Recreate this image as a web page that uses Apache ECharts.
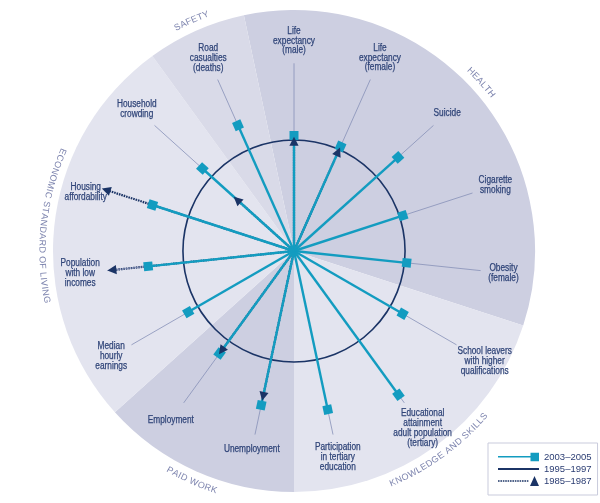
<!DOCTYPE html>
<html lang="en">
<head>
    <meta charset="UTF-8">
    <title>Change in social indicators since 1995–1997</title>
    <script src="https://cdn.jsdelivr.net/npm/echarts@6/dist/echarts.min.js"></script>
    <style>
        html, body { margin: 0; padding: 0; background: #fff; }
        #main { width: 600px; height: 503px; }
    </style>
</head>
<body>
<div id="main"></div>
<script>
    // indicators, clockwise from the top
    var indicators = [
        'Life\nexpectancy\n(male)', 'Life\nexpectancy\n(female)', 'Suicide', 'Cigarette\nsmoking', 'Obesity\n(female)',
        'School leavers\nwith higher\nqualifications', 'Educational\nattainment\nadult population\n(tertiary)',
        'Participation\nin tertiary\neducation', 'Unemployment', 'Employment', 'Median\nhourly\nearnings',
        'Population\nwith low\nincomes', 'Housing\naffordability', 'Household\ncrowding', 'Road\ncasualties\n(deaths)'
    ];
    // position relative to 1995–1997 (= 100)
    var values2005 = [104, 103, 126, 103, 102, 113, 160, 146, 142, 114, 110, 132, 134, 111, 124];
    var values1985 = [98, 97, null, null, null, null, null, null, 133, 110, null, 164, 177, 68, null];
    var baseline1995 = 100;
    // domains in the same clockwise order, with the number of indicators in each
    var domains = ['HEALTH', 'KNOWLEDGE AND SKILLS', 'PAID WORK', 'ECONOMIC STANDARD OF LIVING', 'SAFETY'];
    var domainSizes = [5, 3, 2, 4, 1];

    var domainColors = ['#cdcfe1', '#e3e4ef', '#cdcfe1', '#e3e4ef', '#d9dae8'];
    var CYAN = '#139cc0', NAVY = '#1b3466', LEADER = '#8791b8', LABEL = '#2f4478', DOMAIN = '#7d84ae';
    var FONT = '"Liberation Sans", Arial, sans-serif';

    var N = indicators.length;
    var STEP = 360 / N;
    var R_MAX = 217;        // radius value at the rim
    var LEADER_END = 169;
    var LABEL_R = 176;      // labels sit just outside this ring
    var DOMAIN_R = 227;
    var LABEL_SIZE = 10, LABEL_LH = 9.8, LABEL_SQUEEZE = 0.83;
    // housing label drops below its arrow head
    var labelNudge = { 12: [-3, 8] };

    function angleOf(i) { return i * STEP; }

    var measure = document.createElement('canvas').getContext('2d');

    function labelBox(text) {
        measure.font = LABEL_SIZE + 'px ' + FONT;
        var lines = text.split('\n');
        var w = 0;
        lines.forEach(function (l) { w = Math.max(w, measure.measureText(l).width); });
        return [w * LABEL_SQUEEZE, lines.length * LABEL_LH];
    }

    var domainData = [];
    var start = 0;
    domains.forEach(function (d, i) {
        domainData.push([DOMAIN_R, (start + domainSizes[i] / 2 - 0.5) * STEP]);
        start += domainSizes[i];
    });

    var myChart = echarts.init(document.getElementById('main'));

    function dotsPath() {
        var p = '';
        for (var x = 0; x < 30; x += 2.4) {
            p += 'M' + x + ',4.2H' + (x + 1.6) + 'V5.8H' + x + 'Z';
        }
        return p;
    }

    var option = {
        animation: false,
        polar: { center: [294, 251], radius: 241 },
        angleAxis: { type: 'value', min: 0, max: 360, startAngle: 90, clockwise: true, show: false, splitLine: { show: false } },
        radiusAxis: { type: 'value', min: 0, max: R_MAX, show: false, splitLine: { show: false } },
        legend: {
            orient: 'vertical',
            left: 488,
            top: 443,
            padding: [8, 6, 8, 10],
            itemGap: 0,
            itemWidth: 41,
            itemHeight: 10,
            selectedMode: false,
            borderColor: '#c9cbdc',
            borderWidth: 1,
            backgroundColor: '#fff',
            textStyle: { color: '#2b3d73', fontSize: 9.5, lineHeight: 12, fontFamily: FONT },
            data: [
                { name: '2003–2005', icon: 'path://M0,4.2H33V5.8H0Z M32.5,1H41V9.5H32.5Z', itemStyle: { color: CYAN, borderWidth: 0 } },
                { name: '1995–1997', icon: 'path://M0,0H41V1.8H0Z', itemStyle: { color: NAVY, borderWidth: 0 } },
                { name: '1985–1987', icon: 'path://' + dotsPath() + ' M32,10L36.5,0L41,10Z', itemStyle: { color: NAVY, borderWidth: 0 } }
            ]
        },
        series: [
            {
                type: 'pie',
                z: 1,
                silent: true,
                center: [294, 251],
                radius: 241,
                startAngle: 90 + STEP / 2,
                label: { show: false },
                labelLine: { show: false },
                emphasis: { disabled: true },
                itemStyle: { borderWidth: 0 },
                data: domains.map(function (d, i) {
                    return { name: d, value: domainSizes[i], itemStyle: { color: domainColors[i] } };
                })
            },
            {
                name: '1995–1997',
                type: 'custom',
                coordinateSystem: 'polar',
                silent: true,
                itemStyle: { color: NAVY },
                data: [[baseline1995, 0]],
                renderItem: function (params, api) {
                    var c = api.coord([0, 0]);
                    var p = api.coord([api.value(0), 0]);
                    var r = Math.hypot(p[0] - c[0], p[1] - c[1]);
                    return {
                        type: 'circle', z2: 1,
                        shape: { cx: c[0], cy: c[1], r: r },
                        style: { fill: 'none', stroke: NAVY, lineWidth: 1.6 }
                    };
                }
            },
            {
                name: '1985–1987',
                type: 'custom',
                coordinateSystem: 'polar',
                silent: true,
                itemStyle: { color: NAVY },
                data: values1985.map(function (v, i) { return [v === null ? '-' : v, angleOf(i)]; }),
                renderItem: function (params, api) {
                    var v = api.value(0);
                    if (isNaN(v)) return null;
                    var ang = api.value(1);
                    var c = api.coord([0, ang]);
                    var p = api.coord([v, ang]);
                    var rot = Math.atan2(p[1] - c[1], p[0] - c[0]);
                    return {
                        type: 'group',
                        children: [
                            {
                                type: 'line', z2: 2,
                                shape: { x1: c[0], y1: c[1], x2: p[0], y2: p[1] },
                                style: { stroke: NAVY, lineWidth: 2.2, lineDash: [1.6, 0.9] }
                            },
                            {
                                type: 'polygon', z2: 6,
                                x: p[0], y: p[1], rotation: -rot,
                                shape: { points: [[5.5, 0], [-3.5, -4.6], [-3.5, 4.6]] },
                                style: { fill: NAVY }
                            }
                        ]
                    };
                }
            },
            {
                name: '2003–2005',
                type: 'custom',
                coordinateSystem: 'polar',
                silent: true,
                itemStyle: { color: CYAN },
                data: values2005.map(function (v, i) { return [v, angleOf(i)]; }),
                renderItem: function (params, api) {
                    var i = params.dataIndex;
                    var v = api.value(0);
                    var ang = api.value(1);
                    var c = api.coord([0, ang]);
                    var p = api.coord([v, ang]);
                    var rot = Math.atan2(p[1] - c[1], p[0] - c[0]);
                    var children = [
                        {
                            type: 'line', z2: 3,
                            shape: { x1: c[0], y1: c[1], x2: p[0], y2: p[1] },
                            style: { stroke: CYAN, lineWidth: 2.4 }
                        },
                        {
                            type: 'rect', z2: 5,
                            x: p[0], y: p[1], rotation: -rot,
                            shape: { x: -4.5, y: -4.5, width: 9, height: 9 },
                            style: { fill: CYAN }
                        }
                    ];
                    var outer = Math.max(v, values1985[i] === null ? 0 : values1985[i]);
                    if (outer < LEADER_END - 3) {
                        var e = api.coord([LEADER_END, ang]);
                        children.push({
                            type: 'line', z2: 2,
                            shape: { x1: p[0], y1: p[1], x2: e[0], y2: e[1] },
                            style: { stroke: LEADER, lineWidth: 0.8 }
                        });
                    }
                    // push the label box out along the spoke until it clears the label ring
                    var ring = api.coord([LABEL_R, ang]);
                    var r0 = Math.hypot(ring[0] - c[0], ring[1] - c[1]);
                    var ux = Math.cos(rot), uy = Math.sin(rot);
                    var box = labelBox(indicators[i]);
                    var s = Math.hypot(ux * box[0] / 2, uy * box[1] / 2);
                    var nudge = labelNudge[i] || [0, 0];
                    children.push({
                        type: 'text', z2: 7,
                        x: c[0] + ux * (r0 + s) + nudge[0],
                        y: c[1] + uy * (r0 + s) + nudge[1],
                        scaleX: LABEL_SQUEEZE,
                        style: {
                            text: indicators[i], align: 'center', verticalAlign: 'middle',
                            fill: LABEL, stroke: LABEL, lineWidth: 0.25,
                            fontSize: LABEL_SIZE, lineHeight: LABEL_LH, fontFamily: FONT
                        }
                    });
                    return { type: 'group', children: children };
                }
            },
            {
                type: 'custom',
                coordinateSystem: 'polar',
                silent: true,
                data: domainData,
                renderItem: function (params, api) {
                    var name = domains[params.dataIndex];
                    var mid = api.value(1);
                    var c = api.coord([0, mid]);
                    var m = api.coord([api.value(0), mid]);
                    var rpx = Math.hypot(m[0] - c[0], m[1] - c[1]);
                    var phiMid = Math.atan2(m[1] - c[1], m[0] - c[0]);
                    var flip = Math.sin(phiMid) > -0.3;
                    var spacing = 0.35;
                    measure.font = '9px "Liberation Sans", sans-serif';
                    var widths = name.split('').map(function (ch) { return measure.measureText(ch).width + spacing; });
                    var total = widths.reduce(function (a, b) { return a + b; }, 0);
                    var acc = 0;
                    var children = [];
                    name.split('').forEach(function (ch, k) {
                        var off = (acc + widths[k] / 2 - total / 2) / rpx;
                        acc += widths[k];
                        var phi = flip ? phiMid - off : phiMid + off;
                        children.push({
                            type: 'text', z2: 7,
                            x: c[0] + rpx * Math.cos(phi),
                            y: c[1] + rpx * Math.sin(phi),
                            rotation: flip ? Math.PI / 2 - phi : -(phi + Math.PI / 2),
                            style: {
                                text: ch, align: 'center', verticalAlign: 'middle',
                                fill: DOMAIN, fontSize: 9, fontFamily: '"Liberation Sans", sans-serif'
                            }
                        });
                    });
                    return { type: 'group', children: children };
                }
            }
        ]
    };

    myChart.setOption(option);
</script>
</body>
</html>
